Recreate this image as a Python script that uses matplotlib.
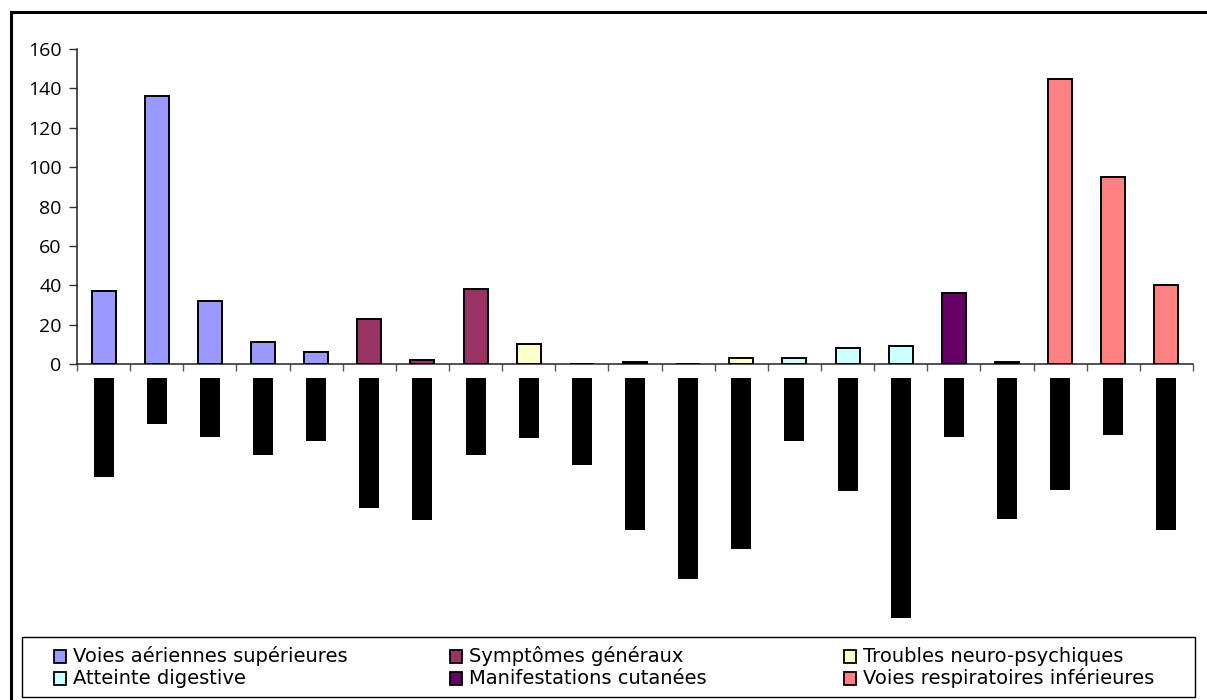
import matplotlib
matplotlib.use("Agg")
import matplotlib.pyplot as plt
from matplotlib.patches import Rectangle
from matplotlib.lines import Line2D

# Symptom groups and their colours
groups = [
    "Voies aériennes supérieures",
    "Symptômes généraux",
    "Troubles neuro-psychiques",
    "Atteinte digestive",
    "Manifestations cutanées",
    "Voies respiratoires inférieures",
]
group_colors = ["#9999FF", "#993366", "#FFFFCC", "#CCFFFF", "#660066", "#FF8080"]

# Number of cases per symptom, with the group of each symptom
counts = [37, 136, 32, 11, 6, 23, 2, 38, 10, 0, 1, 0, 3, 3, 8, 9, 36, 1, 145, 95, 40]
count_group = [0, 0, 0, 0, 0, 1, 1, 1, 2, 2, 4, 2, 2, 3, 3, 3, 4, 4, 5, 5, 5]

# Length of each (blacked-out) category label block
label_lengths = [99, 46, 59, 77, 63, 130, 142, 77, 60, 87, 152, 201, 171, 63, 113, 240, 59, 141, 112, 57, 152]

W, H = 1207, 700
fig = plt.figure(figsize=(W / 100, H / 100), dpi=100)

def px_rect(x0, y0, x1, y1):
    return [x0 / W, 1 - y1 / H, (x1 - x0) / W, (y1 - y0) / H]

n = len(counts)
x = list(range(n))

# Main bar chart
ax = fig.add_axes(px_rect(77, 49, 1193, 364))
ax.bar(x, counts, width=0.45,
       color=[group_colors[g] for g in count_group],
       edgecolor="black", linewidth=1.4, zorder=3)
ax.set_xlim(-0.5, n - 0.5)
ax.set_ylim(0, 160)
ax.set_yticks(range(0, 161, 20))
ax.tick_params(axis="y", direction="out", length=6, width=1, color="#333333",
               labelsize=14, pad=5)
for lbl in ax.get_yticklabels():
    lbl.set_family(["Open Sans", "DejaVu Sans"])
ax.set_xticks([i - 0.5 for i in range(n + 1)])
ax.set_xticklabels([])
ax.tick_params(axis="x", direction="out", length=5, width=1, color="#555555")
for s in ("top", "right"):
    ax.spines[s].set_visible(False)
for s in ("left", "bottom"):
    ax.spines[s].set_linewidth(1.1)
    ax.spines[s].set_color("#222222")

# Category label blocks under the axis
lab = fig.add_axes(px_rect(77, 378, 1193, 640))
lab.bar(x, label_lengths, width=0.376, color="black", linewidth=0)
lab.set_xlim(-0.5, n - 0.5)
lab.set_ylim(262, 0)
lab.axis("off")

# Outer chart frame
fig.add_artist(Line2D([11 / W, 11 / W], [0, 1 - 12 / H], color="black", lw=2.2))
fig.add_artist(Line2D([11 / W, 1], [1 - 12 / H, 1 - 12 / H], color="black", lw=2.2))

# Legend box
fig.add_artist(Rectangle((22 / W, 1 - 697 / H), 1173 / W, 60 / H,
                         transform=fig.transFigure, fill=False,
                         edgecolor="black", lw=1.0))
col_x = [54, 450, 844]
row_base = [662, 684]
order = [[0, 1, 2], [3, 4, 5]]
for r, row in enumerate(order):
    for c, gi in enumerate(row):
        mx, by = col_x[c], row_base[r]
        fig.add_artist(Rectangle((mx / W, 1 - (by + 1) / H), 12 / W, 13 / H,
                                 transform=fig.transFigure,
                                 facecolor=group_colors[gi], edgecolor="black", lw=1.3))
        fig.text((mx + 19) / W, 1 - by / H, groups[gi],
                 ha="left", va="baseline", fontsize=14,
                 family="DejaVu Sans")

fig.savefig("out.png", dpi=100, facecolor="white")
